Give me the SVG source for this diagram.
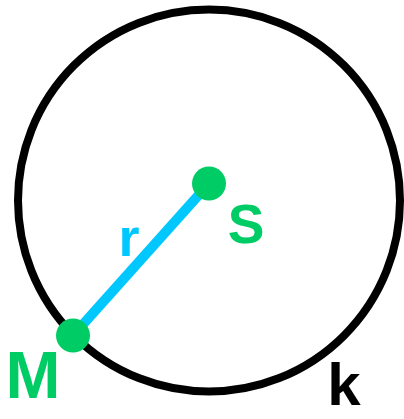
<svg xmlns="http://www.w3.org/2000/svg" width="404" height="419" viewBox="0 0 404 419">
<style>
.lbl{font-family:"Liberation Sans",Arial,sans-serif;font-weight:bold;text-anchor:middle}
.green{fill:#00CC66}
.blue{fill:#00C8FF}
.dot{fill:#00CC66}
</style>
<rect width="404" height="419" fill="#ffffff"/>
<g id="k">
<circle cx="209" cy="200.5" r="191" fill="none" stroke="#000000" stroke-width="8"/>
<text class="lbl" x="344" y="405" font-size="60" fill="#000000">k</text>
</g>
<g id="connectors">
<line x1="209" y1="183.5" x2="73" y2="335.5" stroke="#00C8FF" stroke-width="10"/>
<text class="lbl blue" x="129" y="256" font-size="54">r</text>
</g>
<g id="S">
<circle class="dot" cx="209" cy="183.5" r="17"/>
<text class="lbl green" x="246" y="243" font-size="55">S</text>
</g>
<g id="M">
<circle class="dot" cx="73" cy="335.5" r="17"/>
<text class="lbl green" x="33" y="398" font-size="66">M</text>
</g>
</svg>
